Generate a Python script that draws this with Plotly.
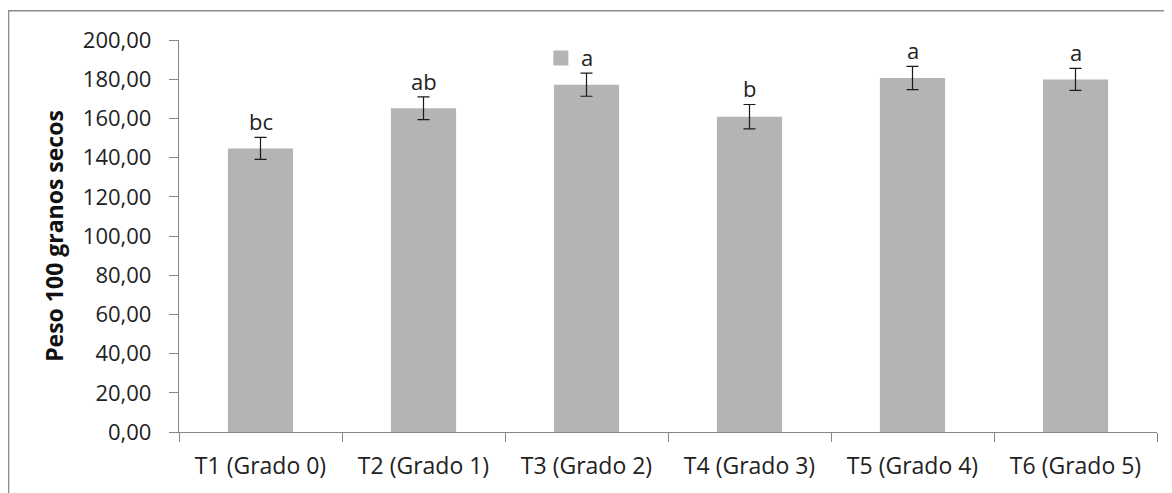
import plotly.graph_objects as go

categories = ["T1 (Grado 0)", "T2 (Grado 1)", "T3 (Grado 2)", "T4 (Grado 3)", "T5 (Grado 4)", "T6 (Grado 5)"]
values = [144.7, 165.2, 177.2, 160.9, 180.6, 179.9]
errors = [5.6, 5.8, 5.9, 6.2, 5.9, 5.6]
letters = ["bc", "ab", "a", "b", "a", "a"]
tick_vals = [0, 20, 40, 60, 80, 100, 120, 140, 160, 180, 200]
tick_text = ["0,00", "20,00", "40,00", "60,00", "80,00", "100,00", "120,00", "140,00", "160,00", "180,00", "200,00"]

FONT = "Open Sans"
AXIS_GRAY = "#878787"
BAR_COLOR = "#B4B4B4"

fig = go.Figure()
fig.add_trace(go.Bar(
    x=categories, y=values, name=" ",
    marker=dict(color=BAR_COLOR, line=dict(width=0)),
    error_y=dict(type="data", array=errors, visible=True, color="#1a1a1a", thickness=1.2, width=6),
    showlegend=False,
))
# legend entry (unnamed series square)
fig.add_trace(go.Scatter(
    x=[None], y=[None], mode="markers", name=" ",
    marker=dict(symbol="square", size=15, color=BAR_COLOR),
    showlegend=True,
))

for c, v, e, t in zip(categories, values, errors, letters):
    fig.add_annotation(x=c, y=v + e, text=t, showarrow=False, yanchor="bottom", yshift=-1,
                       font=dict(family=FONT, size=22, color="#222222"))

fig.add_shape(type="rect", xref="paper", yref="paper", x0=-0.1743, x1=1.2, y0=-0.6, y1=1.0748,
              line=dict(color="#8c8c8c", width=1.5), fillcolor="rgba(0,0,0,0)", layer="below")

fig.update_layout(
    width=1164, height=485,
    margin=dict(l=171, r=15, t=32, b=61),
    paper_bgcolor="white", plot_bgcolor="white",
    bargap=0.6,
    font=dict(family=FONT, size=22, color="#222222"),
    legend=dict(x=0.37, y=0.991, xanchor="left", yanchor="top", bgcolor="rgba(0,0,0,0)",
                font=dict(size=12), itemwidth=30),
    xaxis=dict(
        showline=True, linecolor=AXIS_GRAY, linewidth=1.3,
        ticks="outside", tickson="boundaries", ticklen=9, tickcolor=AXIS_GRAY, tickwidth=1.3,
        tickfont=dict(family=FONT, size=23, color="#222222"), showgrid=False,
        ticklabelstandoff=13,
    ),
    yaxis=dict(
        range=[0, 200], tickvals=tick_vals, ticktext=tick_text,
        showline=True, linecolor=AXIS_GRAY, linewidth=1.3,
        ticks="outside", ticklen=9, tickcolor=AXIS_GRAY, tickwidth=1.3,
        showgrid=False, zeroline=False,
        tickfont=dict(family=FONT, size=22, color="#222222"),
        ticklabelstandoff=13,
        title=dict(text="<b>Peso 100 granos secos</b>", font=dict(family=FONT, size=23, color="#111111"), standoff=12),
    ),
)

fig.write_html("out.html")
